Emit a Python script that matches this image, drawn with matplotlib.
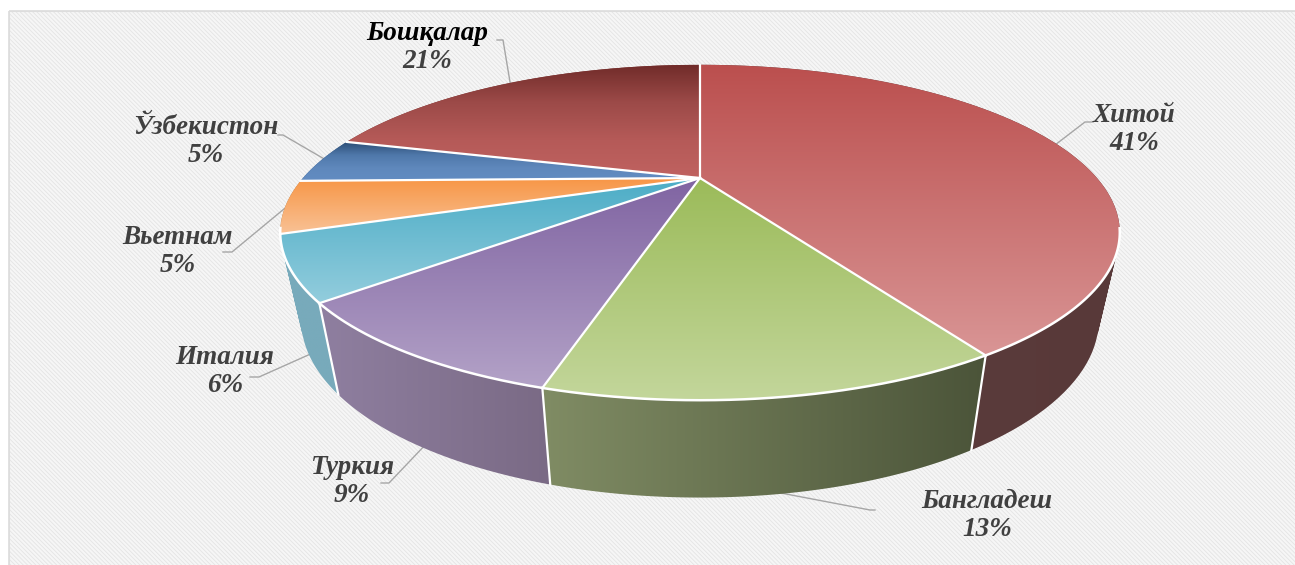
import numpy as np
import matplotlib
matplotlib.use("Agg")
import matplotlib.pyplot as plt
from matplotlib.colors import LinearSegmentedColormap
from matplotlib.patches import PathPatch, Rectangle
from matplotlib.path import Path

# data: shares, labels as printed
countries = ["Хитой", "Бангладеш", "Туркия", "Италия", "Вьетнам", "Ўзбекистон", "Бошқалар"]
shares = [41.3, 13.1, 9.2, 6.0, 5.1, 4.5, 20.8]
percent_labels = ["41%", "13%", "9%", "6%", "5%", "5%", "21%"]

# colours: top face (upper to lower) and side face (left, right)
top_colors = [("#bb4f4e", "#d99595"), ("#9bbb59", "#c3d69b"), ("#8064a2", "#b3a2c7"),
              ("#4bacc6", "#93cddd"), ("#f79646", "#f9c296"),
              ("#2c4d75", "#4f78aa", "#5f88bc", "#628cc2"),
              ("#702b29", "#9c4a48", "#b55a58", "#c06260")]
side_colors = [("#5e3e3e", "#583939"), ("#808c64", "#4b5439"), ("#8f7fa0", "#7a6a85"),
               ("#78aabb", "#78aabb"), ("#b07a45", "#b07a45"), ("#3f5f88", "#3f5f88"),
               ("#7a3533", "#7a3533")]

# label centres and leader lines, in pixels
label_pos = [(1134, 115), (987, 502), (352, 467), (225, 358), (178, 237), (206, 127), (427, 33)]
leaders = [[(1055, 145), (1085, 122), (1093, 122)],
           [(765, 490), (870, 510), (875, 510)],
           [(428, 442), (389, 483), (381, 483)],
           [(315, 352), (259, 377), (250, 377)],
           [(290, 204), (232, 252), (223, 252)],
           [(326, 160), (283, 135), (278, 135)],
           [(511, 88), (503, 40), (497, 40)]]

# perspective projection of the disc, fitted to the picture
CX, CY = 700, 178
A, B, K = 397, 150, 0.325
LOWER_SX, LOWER_SY, DEPTH = 0.95, 1.06, 84


def project(theta, lower=False):
    x, y = np.sin(theta), np.cos(theta)
    d = 1 + K * y
    if lower:
        return np.column_stack((CX + LOWER_SX * A * x / d, CY - LOWER_SY * B * y / d + DEPTH))
    return np.column_stack((CX + A * x / d, CY - B * y / d))


def gradient_fill(ax, path, colors, horizontal, z):
    cmap = LinearSegmentedColormap.from_list("g", list(colors))
    grad = np.linspace(0, 1, 256)
    grad = grad.reshape(1, -1) if horizontal else grad.reshape(-1, 1)
    x0, y0 = path.vertices.min(axis=0)
    x1, y1 = path.vertices.max(axis=0)
    im = ax.imshow(grad, cmap=cmap, extent=(x0, x1, y1, y0), aspect="auto",
                   interpolation="bilinear", zorder=z, vmin=0, vmax=1)
    patch = PathPatch(path, transform=ax.transData, facecolor="none", edgecolor="none")
    ax.add_patch(patch)
    im.set_clip_path(patch)


def side_path(th):
    # one small quad per arc step, all wound the same way, so the silhouette stays filled
    up, low = project(th), project(th, lower=True)
    verts, codes = [], []
    for j in range(len(th) - 1):
        quad = np.array([up[j], up[j + 1], low[j + 1], low[j]])
        x, y = quad[:, 0], quad[:, 1]
        area = np.sum(x * np.roll(y, -1) - np.roll(x, -1) * y)
        if area < 0:
            quad = quad[::-1]
        verts.extend(list(quad) + [quad[0]])
        codes.extend([Path.MOVETO, Path.LINETO, Path.LINETO, Path.LINETO, Path.CLOSEPOLY])
    return Path(np.array(verts), codes)


fig = plt.figure(figsize=(12.95, 5.65), dpi=100)
ax = fig.add_axes([0, 0, 1, 1])
ax.set_axis_off()

# hatched panel behind the chart
plt.rcParams["hatch.linewidth"] = 0.6
ax.add_patch(Rectangle((9, 11), 1300, 570, facecolor="#f6f6f6", edgecolor="#e4e4e4",
                       hatch="\\" * 8, linewidth=0.8, zorder=0))
ax.add_patch(Rectangle((9, 11), 1300, 570, facecolor="none", edgecolor="#dcdcdc",
                       linewidth=1.2, zorder=0.5))

bounds = np.concatenate(([0], np.cumsum(shares))) / np.sum(shares) * 2 * np.pi

# side faces, back to front
order = sorted(range(len(shares)), key=lambda i: -np.cos((bounds[i] + bounds[i + 1]) / 2))
for n, i in enumerate(order):
    th = np.linspace(bounds[i], bounds[i + 1], 90)
    gradient_fill(ax, side_path(th), side_colors[i], True, 1 + n * 0.01)

# white seams between the visible side faces
for i in range(3):
    th = np.array([bounds[i + 1]])
    seam = np.vstack((project(th), project(th, lower=True)))
    ax.plot(seam[:, 0], seam[:, 1], color="white", lw=1.6, zorder=2)

# top faces
for i in range(len(shares)):
    th = np.linspace(bounds[i], bounds[i + 1], 200)
    pts = np.vstack(([[CX, CY]], project(th), [[CX, CY]]))
    gradient_fill(ax, Path(pts), top_colors[i], False, 3)
    # radial seams everywhere, rim highlight only on the near side
    ax.plot([CX, pts[1, 0]], [CY, pts[1, 1]], color="white", lw=1.6, zorder=4)
    front = np.cos(th) < -0.3
    if front.any():
        rim = project(th[front])
        ax.plot(rim[:, 0], rim[:, 1], color="white", lw=1.8, zorder=4)

# labels and leader lines
for i, name in enumerate(countries):
    line = np.array(leaders[i])
    ax.plot(line[:, 0], line[:, 1], color="#a6a6a6", lw=1.0, zorder=0.8)
    color = "black" if i == len(countries) - 1 else "#404040"
    x, y = label_pos[i]
    ax.text(x, y, name, ha="center", va="center", fontsize=19.5, family="Liberation Serif",
            style="italic", weight="bold", color=color, zorder=6)
    ax.text(x, y + 28, percent_labels[i], ha="center", va="center", fontsize=19.5,
            family="Liberation Serif", style="italic", weight="bold", color="#404040", zorder=6)

ax.set_xlim(0, 1295)
ax.set_ylim(565, 0)
fig.savefig("out.png", dpi=100, facecolor="white")
